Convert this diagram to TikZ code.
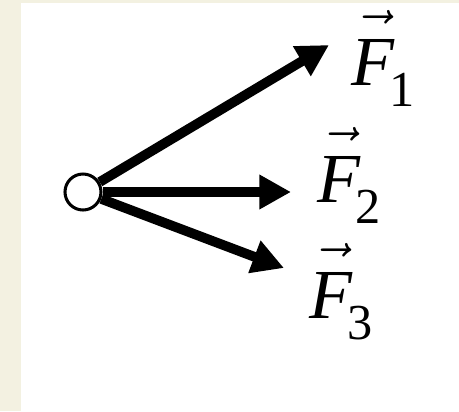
\documentclass[tikz,border=0pt]{standalone}
\usepackage{fix-cm}
\usepackage{amsmath}
\usepackage{fontspec}
\setmainfont{Liberation Serif}
\usetikzlibrary{arrows.meta}
\definecolor{fbeige}{RGB}{243,241,225}
\newcommand{\forcelbl}[1]{$\vec{\raisebox{0pt}[1.2\height]{\textit{F}}}$\kern-0.08em\raisebox{-0.3em}{\fontsize{43}{46}\selectfont #1}}

\begin{document}
\begin{tikzpicture}[x=0.03cm,y=-0.03cm,
      force/.style={line width=8.3pt,-{Triangle[length=0.95cm,width=0.98cm]}},
      lbl/.style={inner sep=0pt,anchor=base west,font=\fontsize{60}{66}\selectfont}]
    % Background
    \fill[fbeige] (0,0) rectangle (459,411);
    \fill[white] (21,3) rectangle (459,411);
    \useasboundingbox (0,0) rectangle (459,411);
    % Object
    \node[circle,draw,line width=2.6pt,fill=white,minimum size=1.08cm,inner sep=0pt] (obj) at (83,192) {};
    % Tips
    \coordinate (t1) at (329,45);
    \coordinate (t2) at (291,192);
    \coordinate (t3) at (284,268);
    % Forces
    \foreach \t in {t1,t2,t3}{\draw[force] (obj)--(\t);}
    % Labels
    \node[lbl] (f1) at (351,85)  {\forcelbl{1}};
    \node[lbl] (f2) at (317,202) {\forcelbl{2}};
    \node[lbl] (f3) at (309,318) {\forcelbl{3}};
  \end{tikzpicture}
\end{document}
